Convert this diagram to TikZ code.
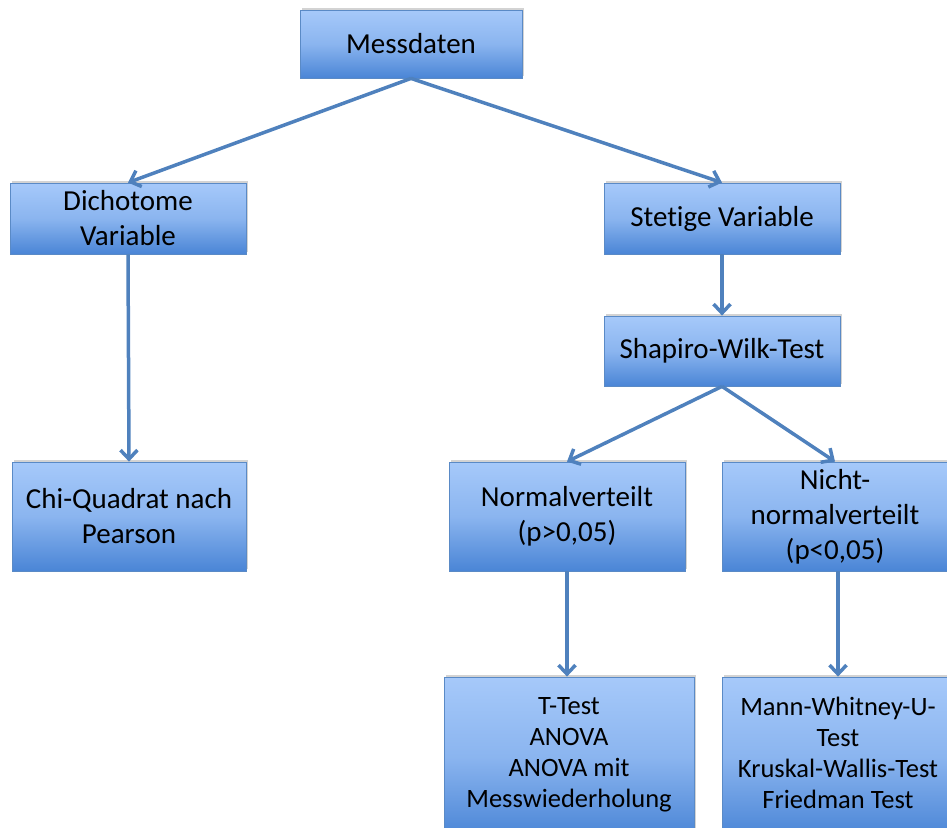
\documentclass[tikz,border=0pt]{standalone}
\usepackage{fontspec}
\setmainfont{Carlito}[Ligatures=NoCommon]
\usetikzlibrary{arrows.meta,shadows}
\definecolor{boxtop}{HTML}{A6C9FA}
\definecolor{boxbot}{HTML}{4A85D6}
\definecolor{boxline}{HTML}{5A8AC6}
\definecolor{arr}{HTML}{4F81BD}
\tikzset{
  box/.style={draw=boxline, line width=0.8pt, top color=boxtop, bottom color=boxbot,
    middle color=boxtop!70!boxbot, shading angle=0,
    drop shadow={shadow xshift=1.5pt, shadow yshift=2pt, opacity=0.35},
    align=center, inner sep=0pt, font=\fontsize{29}{35}\selectfont, text=black},
  btext/.style={font=\fontsize{26.5}{31}\selectfont, align=center, anchor=north, inner sep=0pt},
  conn/.style={draw=arr, line width=3.5pt, -{Straight Barb[length=9pt,width=17pt,line width=3.5pt]}}
}
\begin{document}
\begin{tikzpicture}[x=1pt,y=-1pt]
\useasboundingbox (0,0) rectangle (947,827);
\clip (0,0) rectangle (947,827);
\node[box, minimum width=222pt, minimum height=68pt] (mess) at (411,44) {Messdaten};
\node[box, minimum width=236pt, minimum height=71pt] (dich) at (128,218.5) {Dichotome\\Variable};
\node[box, minimum width=236pt, minimum height=71pt] (stet) at (722,218.5) {Stetige Variable};
\node[box, minimum width=236pt, minimum height=70pt] (shap) at (722,351) {Shapiro-Wilk-Test};
\node[box, minimum width=234pt, minimum height=109pt] (chi) at (129,516.5) {Chi-Quadrat nach\\Pearson};
\node[box, minimum width=236pt, minimum height=109pt] (norm) at (567,516.5) {Normalverteilt\\(p>0,05)};
\node[box, minimum width=226pt, minimum height=109pt] (nicht) at (835,516.5) {Nicht-\\normalverteilt\\(p<0,05)};
\node[box, minimum width=250pt, minimum height=160pt] (ttest) at (569,757) {};
\node[btext] (ttxt) at (569,697) {T-Test\\ANOVA\\ANOVA mit\\Messwiederholung};
\node[box, minimum width=226pt, minimum height=160pt] (mann) at (835,757) {};
\node[btext] (mtxt) at (838,697) {Mann-Whitney-U-\\Test\\Kruskal-Wallis-Test\\Friedman Test};
\draw[conn] (mess.south) -- (dich.north);
\draw[conn] (mess.south) -- (stet.north);
\draw[conn] (stet.south) -- (shap.north);
\draw[conn] (shap.south) -- (norm.north);
\draw[conn] (shap.south) -- (nicht.north);
\draw[conn] (dich.south) -- (chi.north);
\draw[conn] (norm.south) -- (norm.south |- ttest.north);
\draw[conn] ([xshift=3pt]nicht.south) -- ([xshift=3pt]nicht.south |- mann.north);
\end{tikzpicture}
\end{document}
